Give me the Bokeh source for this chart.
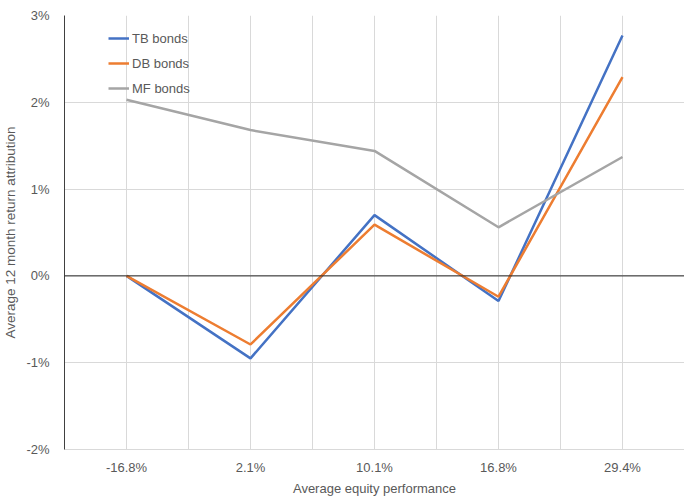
from bokeh.plotting import figure
from bokeh.models import (FixedTicker, Grid, Span, Legend, LegendItem,
                          PrintfTickFormatter)
from bokeh.embed import file_html
from bokeh.resources import INLINE

# Average equity performance buckets (x categories)
categories = ["-16.8%", "2.1%", "10.1%", "16.8%", "29.4%"]

# Average 12 month return attribution, in percent
tb_bonds = [0.00, -0.95, 0.70, -0.29, 2.77]
db_bonds = [0.00, -0.79, 0.59, -0.24, 2.29]
mf_bonds = [2.03, 1.68, 1.44, 0.56, 1.37]

y_ticks = [-2, -1, 0, 1, 2, 3]

FONT = "Liberation Sans"
TEXT = "#595959"
GRID = "#d9d9d9"

xs = list(range(len(categories)))

p = figure(width=684, height=498, output_backend="svg", toolbar_location=None,
           x_range=(-0.5, len(categories) - 0.5), y_range=(-2, 3),
           min_border_left=63, min_border_right=0, min_border_top=15,
           min_border_bottom=49)
p.outline_line_color = None
p.background_fill_color = "white"

# grid: horizontal at each percent, vertical at centres and category boundaries
p.xgrid.visible = False
p.ygrid.grid_line_color = GRID
p.ygrid.grid_line_width = 1
half_ticks = [i * 0.5 - 0.5 for i in range(2 * len(categories) + 1)]
p.add_layout(Grid(dimension=0, ticker=FixedTicker(ticks=half_ticks),
                  grid_line_color=GRID, grid_line_width=1))

# axes
p.xaxis.ticker = FixedTicker(ticks=xs)
p.xaxis.major_label_overrides = {i: c for i, c in zip(xs, categories)}
p.xaxis.axis_line_color = GRID
p.yaxis.ticker = FixedTicker(ticks=y_ticks)
p.yaxis.formatter = PrintfTickFormatter(format="%d%%")
p.yaxis.axis_line_color = "#404040"
for ax in (p.xaxis[0], p.yaxis[0]):
    ax.major_tick_line_color = None
    ax.minor_tick_line_color = None
    ax.major_label_text_font = FONT
    ax.major_label_text_font_size = "13px"
    ax.major_label_text_color = TEXT
    ax.axis_label_text_font = FONT
    ax.axis_label_text_font_size = "13px"
    ax.axis_label_text_font_style = "normal"
    ax.axis_label_text_color = TEXT
p.xaxis.axis_label = "Average equity performance"
p.yaxis.axis_label = "Average 12 month return attribution"
p.yaxis.axis_label_text_font_size = "13.5px"
p.xaxis.major_label_standoff = 4
p.xaxis.axis_label_standoff = 3
p.yaxis.major_label_standoff = 9
p.yaxis.axis_label_standoff = 5

# zero line (category axis crossing)
p.add_layout(Span(location=0, dimension="width", line_color="#262626",
                  line_width=1))

r_tb = p.line(xs, tb_bonds, line_color="#4472C4", line_width=2.5)
r_db = p.line(xs, db_bonds, line_color="#ED7D31", line_width=2.5)
r_mf = p.line(xs, mf_bonds, line_color="#A5A5A5", line_width=2.5)

legend = Legend(items=[LegendItem(label="TB bonds", renderers=[r_tb]),
                       LegendItem(label="DB bonds", renderers=[r_db]),
                       LegendItem(label="MF bonds", renderers=[r_mf])],
                location=(44, 351), padding=0, margin=0, spacing=5,
                glyph_width=21, glyph_height=20, label_height=20,
                label_standoff=3, border_line_color=None,
                background_fill_alpha=0,
                label_text_font=FONT, label_text_font_size="13px",
                label_text_color=TEXT)
p.add_layout(legend)

open("out.html", "w").write(file_html(p, INLINE))
